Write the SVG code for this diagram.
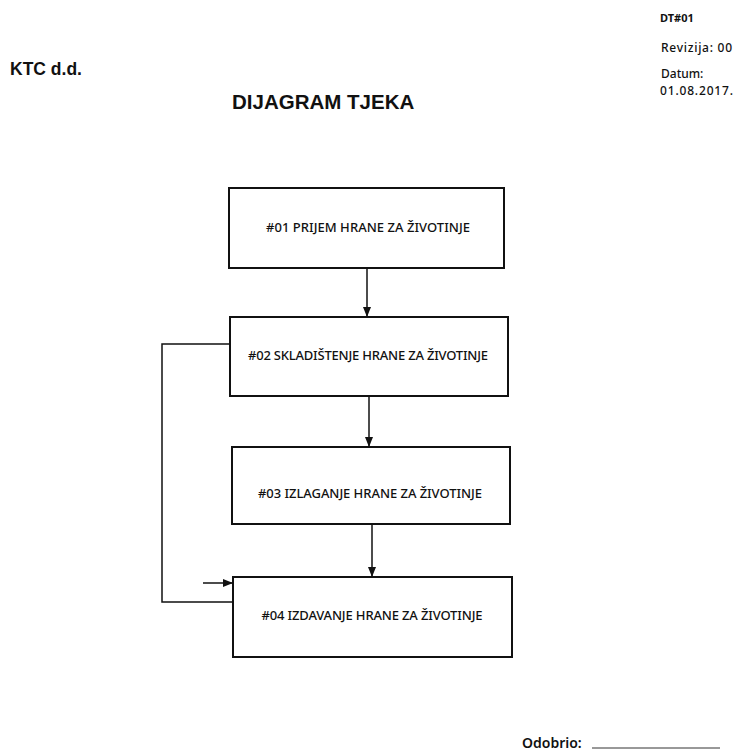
<svg xmlns="http://www.w3.org/2000/svg" width="738" height="751" viewBox="0 0 738 751">
<style>
.box{fill:#fff;stroke:#111;stroke-width:2}
.lbl{font-family:"Noto Sans","Open Sans",sans-serif;font-size:13px;font-weight:500;fill:#111;text-anchor:middle}
.hdr{font-family:"Liberation Sans",Arial,sans-serif;font-weight:bold;fill:#111}
.meta{font-family:"Noto Sans","Open Sans",sans-serif;font-size:12px;font-weight:500;fill:#111}
.ln{fill:none;stroke:#111;stroke-width:1.5}
</style>
<defs>
<marker id="ah" markerWidth="10" markerHeight="10" refX="9" refY="5" orient="auto" markerUnits="userSpaceOnUse">
<path d="M0,1 L10,5 L0,9 Z" fill="#111"/>
</marker>
</defs>
<rect width="738" height="751" fill="#fff"/>
<text class="hdr" x="10" y="75" style="font-size:17.5px">KTC d.d.</text>
<text class="hdr" x="232" y="109" style="font-size:20.5px">DIJAGRAM TJEKA</text>
<text class="meta" x="660" y="22" style="font-size:11px;font-weight:bold">DT#01</text>
<text class="meta" x="661" y="52" textLength="71">Revizija: 00</text>
<text class="meta" x="661" y="78">Datum:</text>
<text class="meta" x="660" y="95" textLength="73">01.08.2017.</text>
<g id="n1"><rect class="box" x="229" y="188" width="275" height="80"/><text class="lbl" x="368" y="232" textLength="204">#01 PRIJEM HRANE ZA ŽIVOTINJE</text></g>
<g id="n2"><rect class="box" x="230" y="317" width="278" height="79"/><text class="lbl" x="368" y="360" textLength="240">#02 SKLADIŠTENJE HRANE ZA ŽIVOTINJE</text></g>
<g id="n3"><rect class="box" x="232" y="447" width="278" height="77"/><text class="lbl" x="370" y="498" textLength="224">#03 IZLAGANJE HRANE ZA ŽIVOTINJE</text></g>
<g id="n4"><rect class="box" x="233" y="577" width="279" height="80"/><text class="lbl" x="372" y="620" textLength="221">#04 IZDAVANJE HRANE ZA ŽIVOTINJE</text></g>
<g id="connectors">
<line class="ln" x1="367" y1="268" x2="367" y2="316" marker-end="url(#ah)"/>
<line class="ln" x1="369" y1="396" x2="369" y2="446" marker-end="url(#ah)"/>
<line class="ln" x1="372" y1="524" x2="372" y2="576" marker-end="url(#ah)"/>
<polyline class="ln" points="230,344 162,344 162,602 233,602"/>
<line class="ln" x1="203" y1="583" x2="232" y2="583" marker-end="url(#ah)"/>
</g>
<text class="meta" x="522" y="748" style="font-size:14px;font-weight:600">Odobrio:</text>
<line x1="592" y1="748" x2="720" y2="748" stroke="#333" stroke-width="1"/>
</svg>
